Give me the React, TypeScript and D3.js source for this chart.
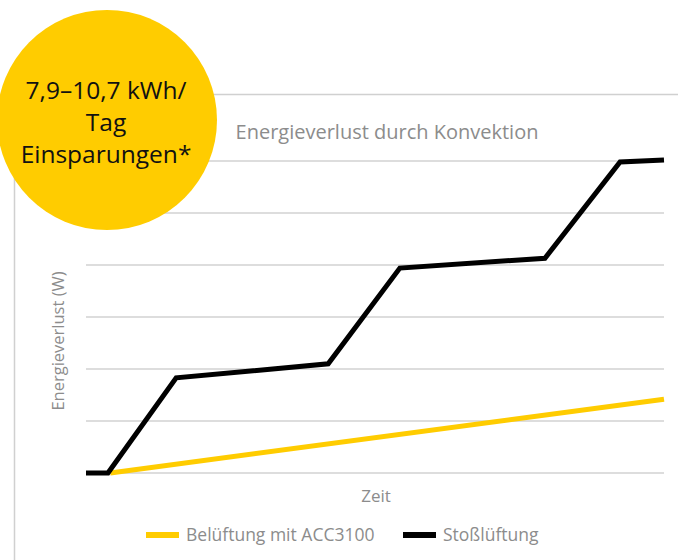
import { useEffect, useRef } from 'react';
import * as d3 from 'd3';

// time positions (0..100) and energy loss (grid units)
const stossTime = [0, 3.8, 15.6, 41.9, 54.3, 79.4, 92.4, 100];
const stossLoss = [0, 0, 1.83, 2.1, 3.94, 4.13, 5.98, 6.02];
const accTime = [4.2, 100];
const accLoss = [0, 1.42];
const gridValues = [0, 1, 2, 3, 4, 5, 6];

const badgeLines = ['7,9–10,7 kWh/', 'Tag', 'Einsparungen*'];
const seriesNames = ['Belüftung mit ACC3100', 'Stoßlüftung'];
const seriesColors = ['#ffcc00', '#000000'];

export default function App() {
    const svgRef = useRef<SVGSVGElement>(null);

    useEffect(() => {
        const svg = d3.select(svgRef.current);
        svg.selectAll('*').remove();

        const W = 678;
        const H = 560;
        const plot = { left: 86, right: 664, top: 161, bottom: 473 };
        const font = '"Open Sans", Lato, sans-serif';
        const grey = '#8c8c8c';

        svg.attr('width', W).attr('height', H);

        const x = d3.scaleLinear().domain([0, 100]).range([plot.left, plot.right]);
        const y = d3.scaleLinear().domain([0, 6]).range([plot.bottom, plot.top]);

        // outer frame (left + top edges)
        svg.append('path')
            .attr('d', `M14.5,${H} L14.5,94.5 L${W},94.5`)
            .attr('fill', 'none')
            .attr('stroke', '#d0d0d0')
            .attr('stroke-width', 1.5);

        // gridlines
        svg.append('g')
            .selectAll('line')
            .data(gridValues)
            .enter()
            .append('line')
            .attr('x1', plot.left)
            .attr('x2', plot.right)
            .attr('y1', (d) => y(d))
            .attr('y2', (d) => y(d))
            .attr('stroke', '#d2d2d2')
            .attr('stroke-width', 1.5);

        const line = d3
            .line<[number, number]>()
            .x((d) => x(d[0]))
            .y((d) => y(d[1]));

        svg.append('path')
            .datum(accTime.map((t, i) => [t, accLoss[i]] as [number, number]))
            .attr('d', line)
            .attr('fill', 'none')
            .attr('stroke', seriesColors[0])
            .attr('stroke-width', 5);

        svg.append('path')
            .datum(stossTime.map((t, i) => [t, stossLoss[i]] as [number, number]))
            .attr('d', line)
            .attr('fill', 'none')
            .attr('stroke', seriesColors[1])
            .attr('stroke-width', 5)
            .attr('stroke-linejoin', 'miter');

        // title
        svg.append('text')
            .attr('x', 387)
            .attr('y', 139)
            .attr('text-anchor', 'middle')
            .style('font-family', font)
            .style('font-size', '20px')
            .attr('fill', grey)
            .text('Energieverlust durch Konvektion');

        // axis labels
        svg.append('text')
            .attr('transform', 'translate(64,341) rotate(-90)')
            .attr('text-anchor', 'middle')
            .style('font-family', font)
            .style('font-size', '16.5px')
            .attr('fill', grey)
            .text('Energieverlust (W)');

        svg.append('text')
            .attr('x', 376)
            .attr('y', 502)
            .attr('text-anchor', 'middle')
            .style('font-family', font)
            .style('font-size', '17px')
            .attr('fill', grey)
            .text('Zeit');

        // legend
        const legendX = [146, 403];
        seriesNames.forEach((name, i) => {
            const row = svg.append('g').attr('transform', `translate(${legendX[i]},535)`);
            row.append('line')
                .attr('x1', 0)
                .attr('x2', 33)
                .attr('stroke', seriesColors[i])
                .attr('stroke-width', 6);
            row.append('text')
                .attr('x', 40)
                .attr('y', 6)
                .style('font-family', font)
                .style('font-size', '17.5px')
                .attr('fill', grey)
                .text(name);
        });

        // savings badge
        svg.append('circle')
            .attr('cx', 107)
            .attr('cy', 120)
            .attr('r', 110)
            .attr('fill', '#ffcc00');

        badgeLines.forEach((t, i) => {
            svg.append('text')
                .attr('x', 106)
                .attr('y', 99 + i * 32)
                .attr('text-anchor', 'middle')
                .style('font-family', font)
                .style('font-size', '24.5px')
                .attr('fill', '#111')
                .text(t);
        });
    }, []);

    return <svg ref={svgRef} style={{ position: 'absolute', left: 0, top: 0 }}></svg>;
}
